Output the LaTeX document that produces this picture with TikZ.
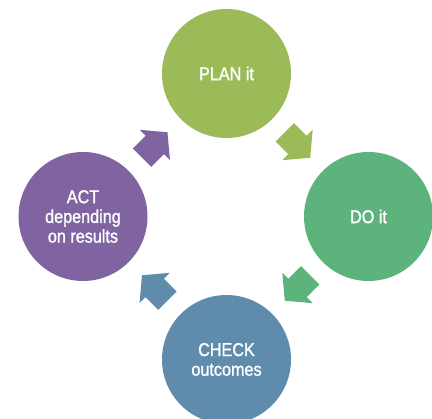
\documentclass[tikz,border=0pt]{standalone}
\usepackage{fontspec}
\newfontfamily\narrowfont[FakeStretch=0.87,FakeBold=1.2]{Liberation Sans}
\usetikzlibrary{calc}
\definecolor{cplan}{HTML}{9BBB59}
\definecolor{cdo}{HTML}{5CB37C}
\definecolor{ccheck}{HTML}{5F8CAD}
\definecolor{cact}{HTML}{8064A2}
\begin{document}
\begin{tikzpicture}[x=1pt,y=-1pt,
  stage/.style={circle, minimum size=129pt, inner sep=0pt, fill=#1, text=white,
    align=center, font=\narrowfont\fontsize{18.6}{19.7}\selectfont},
  pics/blockarrow/.style={code={
    \fill[pic actions] (-18,-13) -- (0,-13) -- (0,-21.5) -- (18,0) -- (0,21.5) -- (0,13) -- (-18,13) -- cycle;}}
]
\useasboundingbox (0,0) rectangle (432,419);
\node[stage=cplan]  (plan)  at (226.5,73.5)  {PLAN it};
\node[stage=cdo]    (do)    at (368.5,216.5) {DO it};
\node[stage=ccheck] (check) at (226.5,359.5) {CHECK\\outcomes};
\node[stage=cact]   (act)   at (83,216.5)    {ACT\\depending\\on results};
\coordinate (a1) at ($(plan)!0.5!(do)$);
\coordinate (a2) at ($(do)!0.5!(check)$);
\coordinate (a3) at ($(check)!0.5!(act)$);
\coordinate (a4) at ($(act)!0.5!(plan)$);
\pic[fill=cplan, rotate=-45] at (a1) {blockarrow};
\pic[fill=cdo, rotate=-135] at (a2) {blockarrow};
\pic[fill=ccheck, rotate=135] at (a3) {blockarrow};
\pic[fill=cact, rotate=45] at (a4) {blockarrow};
\end{tikzpicture}
\end{document}
